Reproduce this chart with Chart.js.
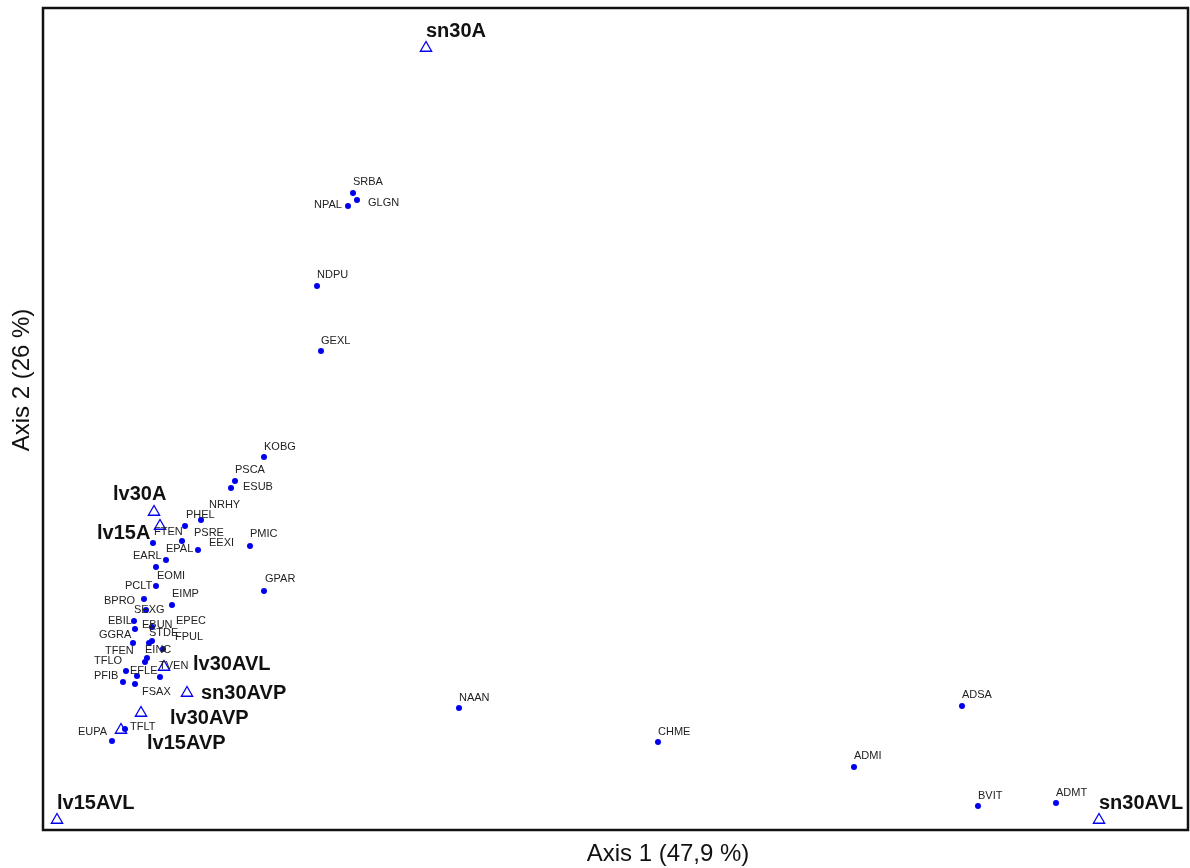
<!DOCTYPE html>
<html>
<head>
<meta charset="utf-8">
<script src="https://cdn.jsdelivr.net/npm/chart.js@4/dist/chart.umd.min.js"></script>
<style>
  html, body { margin: 0; padding: 0; background: #ffffff; }
  #wrap { width: 1190px; height: 868px; }
</style>
</head>
<body>
<div id="wrap"><canvas id="ca" width="1190" height="868"></canvas></div>
<script>
// Correspondence analysis ordination: species scores (dots) and site scores (triangles)
const speciesNames = ['NRHY','PHEL','FTEN','PSRE','EEXI','EPAL','EARL','EOMI','PCLT','BPRO','EIMP','SEXG','EBIL','EBUN','EPEC','GGRA','STDE','FPUL','TFEN','EINC','TFLO','TVEN','EFLE','PFIB','FSAX','EUPA','TFLT','KOBG','PSCA','ESUB','PMIC','GPAR','SRBA','GLGN','NPAL','NDPU','GEXL','NAAN','CHME','ADMI','ADSA','BVIT','ADMT'];
const speciesAxis1 = [1.58,1.42,1.10,1.39,1.55,1.23,1.13,1.13,1.01,1.03,1.29,1.09,0.91,1.06,1.09,0.92,1.04,1.20,0.90,1.02,0.83,1.17,0.94,0.80,0.92,0.69,0.82,2.21,1.92,1.88,2.07,2.21,3.10,3.14,3.05,2.74,2.78,4.16,6.15,8.11,9.19,9.35,10.13];
const speciesAxis2 = [3.10,3.04,2.87,2.89,2.80,2.70,2.63,2.44,2.31,2.20,2.25,2.03,2.09,1.87,1.89,2.01,1.72,1.81,1.87,1.68,1.59,1.53,1.54,1.48,1.46,0.89,1.01,3.73,3.49,3.42,2.84,2.39,6.37,6.30,6.24,5.44,4.79,1.22,0.88,0.63,1.24,0.24,0.27];

const siteNames = ['sn30A','lv30A','lv15A','lv30AVL','sn30AVP','lv30AVP','lv15AVP','lv15AVL','sn30AVL'];
const siteAxis1 = [3.83,1.11,1.17,1.21,1.44,0.98,0.78,0.14,10.56];
const siteAxis2 = [7.82,3.18,3.04,1.63,1.37,1.17,1.00,0.10,0.10];

const axis1Title = 'Axis 1 (47,9 %)';
const axis2Title = 'Axis 2 (26 %)';

// Label placement (pixel offsets from each mark, left edge / vertical middle of text)
const labelOffset = {
  NRHY:[8,-15], PHEL:[1,-11], FTEN:[1,-11], PSRE:[12,-8], EEXI:[11,-7], EPAL:[0,-11],
  EARL:[-23,-11], EOMI:[1,-10], PCLT:[-19,-13], BPRO:[-42,-9], EIMP:[0,-11], SEXG:[-18,-17],
  EBIL:[-26,0], EBUN:[-7,-18], EPEC:[24,-20], GGRA:[-36,6], STDE:[2,-25], FPUL:[12,-12],
  TFEN:[-28,8], EINC:[0,-12], TFLO:[-32,-10], TVEN:[-1,-11], EFLE:[-7,-5], PFIB:[-29,-6],
  FSAX:[7,8], EUPA:[-34,-9], TFLT:[5,-2], KOBG:[0,-10], PSCA:[0,-11], ESUB:[12,-1],
  PMIC:[0,-12], GPAR:[1,-12], SRBA:[0,-11], GLGN:[11,3], NPAL:[-34,-1], NDPU:[0,-11],
  GEXL:[0,-10], NAAN:[0,-10], CHME:[0,-10], ADMI:[0,-11], ADSA:[0,-11], BVIT:[0,-10], ADMT:[0,-10],
  sn30A:[0,-17], lv30A:[-41,-18], lv15A:[-63,7], lv30AVL:[29,-3], sn30AVP:[14,0],
  lv30AVP:[29,5], lv15AVP:[26,13], lv15AVL:[0,-17], sn30AVL:[0,-17]
};

const toPoints = (xs, ys) => xs.map((x, i) => ({ x: x, y: ys[i] }));

const labelsPlugin = {
  id: 'ordinationLabels',
  afterDatasetsDraw(chart) {
    const ctx = chart.ctx;
    ctx.save();
    ctx.textAlign = 'left';
    ctx.textBaseline = 'middle';
    // species names
    ctx.fillStyle = '#222222';
    ctx.font = '11px "Liberation Sans", Arial, sans-serif';
    chart.getDatasetMeta(0).data.forEach((el, i) => {
      const n = speciesNames[i];
      const o = labelOffset[n] || [0, -10];
      ctx.fillText(n, el.x + o[0], el.y + o[1]);
    });
    // site names
    ctx.fillStyle = '#111111';
    ctx.font = 'bold 20px "Liberation Sans", Arial, sans-serif';
    chart.getDatasetMeta(1).data.forEach((el, i) => {
      const n = siteNames[i];
      const o = labelOffset[n] || [0, -18];
      ctx.fillText(n, el.x + o[0], el.y + o[1]);
    });
    ctx.restore();
  },
  afterDraw(chart) {
    const ctx = chart.ctx;
    const a = chart.chartArea;
    ctx.save();
    // plot frame
    ctx.strokeStyle = '#111111';
    ctx.lineWidth = 2.5;
    ctx.strokeRect(a.left, a.top, a.right - a.left - 1, a.bottom - a.top);
    // axis titles
    ctx.fillStyle = '#111111';
    ctx.font = '24px "Liberation Sans", Arial, sans-serif';
    ctx.textAlign = 'center';
    ctx.textBaseline = 'middle';
    ctx.fillText(axis1Title, 668, 854);
    ctx.translate(22, 380);
    ctx.rotate(-Math.PI / 2);
    ctx.fillText(axis2Title, 0, 0);
    ctx.restore();
  }
};

new Chart(document.getElementById('ca'), {
  type: 'scatter',
  data: {
    datasets: [
      {
        label: 'Species',
        data: toPoints(speciesAxis1, speciesAxis2),
        pointStyle: 'circle',
        pointRadius: 3,
        pointBackgroundColor: '#0000ee',
        pointBorderColor: '#0000ee',
        pointBorderWidth: 0,
        clip: false
      },
      {
        label: 'Sites',
        data: toPoints(siteAxis1, siteAxis2),
        pointStyle: 'triangle',
        pointRadius: 6.5,
        pointBackgroundColor: 'rgba(255,255,255,0)',
        pointBorderColor: '#0000ee',
        pointBorderWidth: 1.3,
        clip: false
      }
    ]
  },
  options: {
    responsive: false,
    animation: false,
    layout: { autoPadding: false, padding: { left: 43, top: 8, right: 1, bottom: 38 } },
    scales: {
      x: { type: 'linear', min: 0, max: 11.46, display: false },
      y: { type: 'linear', min: 0, max: 8.22, display: false }
    },
    plugins: {
      legend: { display: false },
      tooltip: { enabled: false }
    }
  },
  plugins: [labelsPlugin]
});
</script>
</body>
</html>
